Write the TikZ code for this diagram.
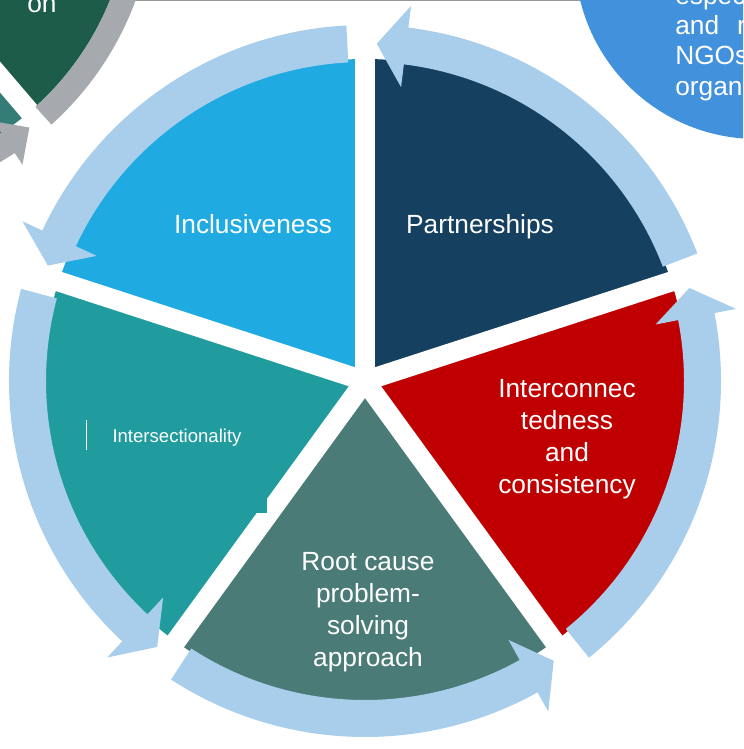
\documentclass[tikz,border=0pt]{standalone}
\usepackage{fontspec}
\setsansfont{Liberation Sans}
\usepackage{xcolor}
\definecolor{partNavy}{RGB}{21, 64, 96}
\definecolor{inclBlue}{RGB}{31, 170, 226}
\definecolor{crossTeal}{RGB}{32, 156, 158}
\definecolor{rootTeal}{RGB}{74, 123, 118}
\definecolor{linkRed}{RGB}{192, 0, 0}
\definecolor{ringBlue}{RGB}{168, 206, 235}
\definecolor{otherGreen}{RGB}{29, 92, 72}
\definecolor{otherTeal}{RGB}{52, 124, 118}
\definecolor{ringGray}{RGB}{166, 170, 174}
\definecolor{bubbleBlue}{RGB}{66, 145, 221}
\definecolor{edgeGray}{RGB}{150, 150, 150}
\usetikzlibrary{calc}
\tikzset{
    wheelText/.style={font=\sffamily\fontsize{18.7}{22.9}\selectfont, text=white, align=center, inner sep=0pt},
    smallText/.style={font=\sffamily\fontsize{13.2}{16}\selectfont, text=white, inner sep=0pt},
    bubbleText/.style={wheelText, anchor=base west},
    gapLine/.style={draw=white, line width=0.5cm},
    topEdge/.style={draw=edgeGray, line width=1pt}
}

\begin{document}
\begin{tikzpicture}[x=0.025cm, y=0.025cm]

    \useasboundingbox (-365,-368) rectangle (378,381);
    \clip (-365,-368) rectangle (378,381);

    % --- TOP EDGE ---
    \draw[topEdge] (-365,380.5) -- (378,380.5);

    % --- NEIGHBOUR WHEEL (top left) ---
    \begin{scope}[shift={(-523,489)}]
        \fill[otherGreen] (0,0) -- (-49.5:289) arc[start angle=-49.5, end angle=30, radius=289] -- cycle;
        \fill[otherTeal] (0,0) -- (-121.5:289) arc[start angle=-121.5, end angle=-49.5, radius=289] -- cycle;
        \draw[gapLine] (0,0) -- (-49.5:340);
        \fill[ringGray] (-48:289) arc[start angle=-48, end angle=20, radius=289] -- (20:313) arc[start angle=20, end angle=-48, radius=313] -- cycle;
        \fill[ringGray] (-110:289) arc[start angle=-110, end angle=-56.5, radius=289] -- (-56.5:275) -- (-51.5:301) -- (-56.5:327) -- (-56.5:313) arc[start angle=-56.5, end angle=-110, radius=313] -- cycle;
    \end{scope}
    \node[bubbleText] (otherLabel) at (-338,368) {on};

    % --- NEIGHBOUR BUBBLE (top right) ---
    \fill[bubbleBlue] (392,424) circle[radius=182];
    \node[bubbleText] (bubbleA) at (310,376) {espec};
    \node[bubbleText] (bubbleB) at (310,346) {and\hspace{0.45cm}r};
    \node[bubbleText] (bubbleC) at (310,316) {NGOs};
    \node[bubbleText] (bubbleD) at (310,285) {organ};

    % --- WHEEL SECTORS ---
    \foreach \a/\col in {18/partNavy, 90/inclBlue, 162/crossTeal, 234/rootTeal, 306/linkRed}
        \fill[\col] (0,0) -- (\a:322) arc[start angle=\a, delta angle=72, radius=322] -- cycle;

    \foreach \a in {18, 90, 162, 234, 306}
        \draw[gapLine] (0,0) -- (\a:372);

    % --- RING ARROWS ---
    \foreach \a in {18, 90, 162, 234, 306} {
        \pgfmathsetmacro{\tailAng}{\a+3}
        \pgfmathsetmacro{\headAng}{\a+65}
        \pgfmathsetmacro{\tipAng}{\a+70}
        \fill[ringBlue] (\tailAng:319) arc[start angle=\tailAng, end angle=\headAng, radius=319]
            -- (\headAng:296) -- (\tipAng:337.5) -- (\headAng:378) -- (\headAng:356)
            arc[start angle=\headAng, end angle=\tailAng, radius=356] -- cycle;
    }

    % text box left over in the teal sector
    \fill[crossTeal] (-280,19) rectangle (-98,-132);
    \draw[white, line width=0.6pt] (-279,-39) -- (-279,-69);

    % --- LABELS ---
    \node[wheelText] (inclLabel) at (-112,157) {Inclusiveness};
    \node[wheelText] (partLabel) at (115,154) {Partnerships};
    \node[wheelText] (linkLabel) at (202,-58) {Interconnec\\tedness\\and\\consistency};
    \node[wheelText] (rootLabel) at (3,-231) {Root cause\\problem-\\solving\\approach};
    \node[smallText] (crossLabel) at (-188,-57) {Intersectionality};

\end{tikzpicture}
\end{document}
